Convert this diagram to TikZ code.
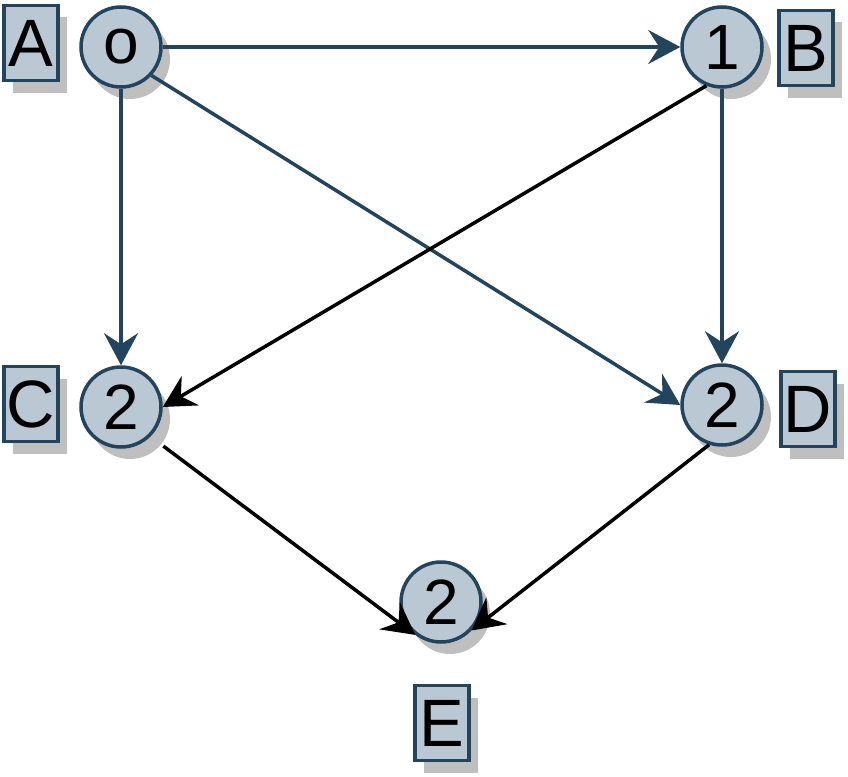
\documentclass[tikz,border=0pt]{standalone}
\usepackage{fontspec}
\setmainfont{Liberation Sans}
\usetikzlibrary{arrows.meta,shadows}
\definecolor{stateFill}{HTML}{BAC8D3}
\definecolor{stateLine}{HTML}{23445D}

\begin{document}
\begin{tikzpicture}[x=1pt,y=-1pt,
  state/.style={circle, draw=stateLine, fill=stateFill, line width=3.5pt,
    minimum size=80pt, inner sep=0pt, font=\fontsize{64}{64}\selectfont,
    drop shadow={shadow xshift=9pt, shadow yshift=-12pt, fill=gray!50, opacity=1}},
  tag/.style={rectangle, draw=stateLine, fill=stateFill, line width=3.5pt,
    minimum width=54pt, minimum height=75pt, inner sep=0pt, font=\fontsize{67}{67}\selectfont,
    drop shadow={shadow xshift=9pt, shadow yshift=-12pt, fill=gray!50, opacity=1}},
  edge/.style={line width=3.5pt, -{Stealth[length=32pt,width=34pt,inset=11pt]}}]
\useasboundingbox (0,0) rectangle (848,776);

% states
\node[state] (nA) at (121,47) {o};
\node[state] (nB) at (722,47) {1};
\node[state] (nC) at (121,407) {2};
\node[state] (nD) at (722,405) {2};
\node[state] (nE) at (441,602) {2};

% letter tags
\node[tag] (tagA) at (31,43) {A};
\node[tag] (tagB) at (806,48) {B};
\node[tag] (tagC) at (31,404) {C};
\node[tag] (tagD) at (808,409) {D};
\node[tag] (tagE) at (442,723) {E};

% edges
\draw[edge, stateLine] (nA.east) -- (nB.west);
\draw[edge, stateLine] (nA.south) -- (nC.north);
\draw[edge, stateLine] (nA.-43) -- (nD.west);
\draw[edge, stateLine] (nB.south) -- (nD.north);
\draw[edge, black] (nB.248) -- (nC.east);
\draw[edge, black, shorten <=16pt] (nC.-45) -- (nE.232);
\draw[edge, black] (nD.252) -- (nE.-43);
\end{tikzpicture}
\end{document}
